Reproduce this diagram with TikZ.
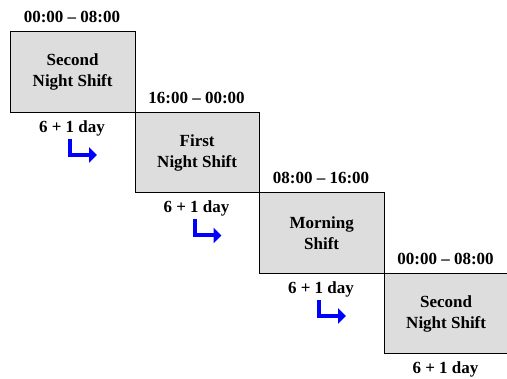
\documentclass[tikz,border=0pt]{standalone}
\usepackage{fontspec}
\setmainfont{Liberation Serif}
\usetikzlibrary{arrows.meta}
\definecolor{boxgray}{RGB}{221,221,221}
\definecolor{arrblue}{RGB}{0,0,255}
\tikzset{
  shiftbox/.style={draw=black, line width=0.8pt, fill=boxgray, anchor=north west,
    minimum width=124.5pt, minimum height=80.5pt, inner sep=0pt,
    align=center, font=\fontsize{17}{21}\selectfont\bfseries},
  lbl/.style={font=\fontsize{17}{21}\selectfont\bfseries, inner sep=0pt},
  turn/.style={draw=arrblue, line width=4pt, -{Triangle[length=8pt,width=15pt]}}
}
\begin{document}
\begin{tikzpicture}[x=1pt,y=-1pt]
\useasboundingbox (0,0) rectangle (507,379);
\node[shiftbox] (b1) at (10,31.5) {Second\\Night Shift};
\node[shiftbox] (b2) at (134.5,112) {First\\Night Shift};
\node[shiftbox] (b3) at (259,192.5) {Morning\\Shift};
\node[shiftbox] (b4) at (383.5,273) {Second\\Night Shift};
\node[lbl] (t1) at (72,17) {00:00 -- 08:00};
\node[lbl] (t2) at (196.5,98) {16:00 -- 00:00};
\node[lbl] (t3) at (321,178) {08:00 -- 16:00};
\node[lbl] (t4) at (445.5,259) {00:00 -- 08:00};
\node[lbl] (d1) at (72,128) {6 + 1 day};
\node[lbl] (d2) at (196.5,208) {6 + 1 day};
\node[lbl] (d3) at (321,289) {6 + 1 day};
\node[lbl] (d4) at (445.5,369) {6 + 1 day};
\coordinate (a1s) at (70,139); \coordinate (a1e) at (97,155);
\coordinate (a2s) at (194.5,219.5); \coordinate (a2e) at (221.5,235.5);
\coordinate (a3s) at (319,300); \coordinate (a3e) at (346,316);
\draw[turn] (a1s) |- (a1e);
\draw[turn] (a2s) |- (a2e);
\draw[turn] (a3s) |- (a3e);
\end{tikzpicture}
\end{document}
